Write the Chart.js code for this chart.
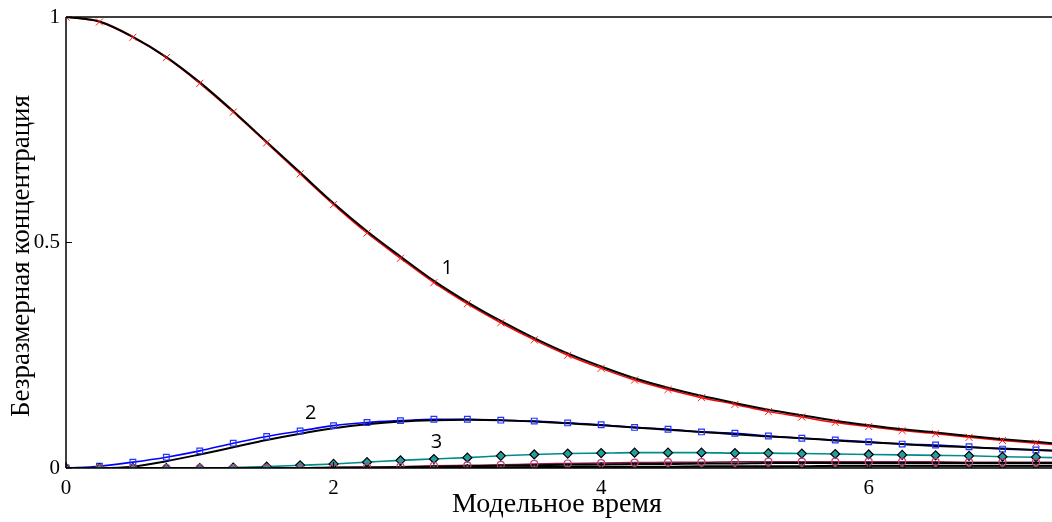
<!DOCTYPE html>
<html>
<head>
<meta charset="utf-8">
<script src="https://cdn.jsdelivr.net/npm/chart.js@4.4.1/dist/chart.umd.min.js"></script>
<style>
html,body{margin:0;padding:0;background:#fff;overflow:hidden;}
#wrap{width:1052px;height:522px;position:relative;}
</style>
</head>
<body>
<div id="wrap"><canvas id="c" width="1052" height="522"></canvas></div>
<script>
// Model time grid (marker positions)
const T = [0,0.25,0.5,0.75,1,1.25,1.5,1.75,2,2.25,2.5,2.75,3,3.25,3.5,3.75,4,4.25,4.5,4.75,5,5.25,5.5,5.75,6,6.25,6.5,6.75,7,7.25,7.5];

// Series 1 (red crosses) and its model curve (black)
const S1 = [1.000,0.989,0.955,0.910,0.853,0.789,0.721,0.652,0.584,0.521,0.465,0.411,0.364,0.322,0.284,0.250,0.221,0.195,0.174,0.156,0.141,0.125,0.113,0.101,0.092,0.083,0.076,0.068,0.061,0.055,0.049];
const B1 = [1.000,0.990,0.956,0.911,0.855,0.791,0.723,0.655,0.587,0.525,0.469,0.415,0.368,0.326,0.288,0.254,0.225,0.199,0.178,0.160,0.144,0.129,0.117,0.105,0.095,0.086,0.079,0.071,0.064,0.058,0.052];

// Series 2 (blue squares) and its model curve
const S2 = [0.000,0.004,0.013,0.024,0.038,0.055,0.070,0.082,0.094,0.101,0.105,0.108,0.108,0.106,0.104,0.100,0.096,0.090,0.086,0.080,0.077,0.071,0.066,0.062,0.058,0.053,0.051,0.047,0.042,0.040,0.036];
const B2 = [0.000,0.000,0.003,0.015,0.030,0.046,0.062,0.076,0.088,0.097,0.103,0.106,0.107,0.106,0.103,0.099,0.095,0.090,0.085,0.080,0.075,0.070,0.066,0.061,0.057,0.053,0.049,0.046,0.043,0.040,0.037];

// Series 3 (teal diamonds)
const S3 = [0.000,0.000,0.000,0.000,0.000,0.001,0.003,0.006,0.009,0.013,0.017,0.020,0.023,0.027,0.030,0.032,0.033,0.034,0.034,0.034,0.033,0.033,0.032,0.031,0.030,0.029,0.028,0.027,0.025,0.024,0.022];

// Series 4 (pink circles) and its model curve
const S4 = [0,0,0,0,0,0,0,0,0.001,0.002,0.003,0.005,0.006,0.007,0.009,0.010,0.011,0.012,0.013,0.013,0.014,0.014,0.014,0.014,0.014,0.014,0.014,0.013,0.013,0.013,0.013];
const B4 = [0,0,0,0,0,0,0,0,0.001,0.001,0.002,0.003,0.004,0.005,0.006,0.007,0.008,0.009,0.009,0.010,0.010,0.011,0.011,0.011,0.011,0.011,0.011,0.011,0.011,0.011,0.011];

// Series 5 (dark markers) and its model curve
const S5 = [0,0,0,0,0,0,0,0,0,0,0,0,0.001,0.001,0.001,0.001,0.002,0.002,0.002,0.002,0.002,0.002,0.003,0.003,0.003,0.003,0.003,0.003,0.003,0.003,0.003];
const B5 = [0,0,0,0,0,0,0,0,0,0,0,0,0.001,0.001,0.002,0.002,0.003,0.003,0.003,0.004,0.004,0.004,0.004,0.005,0.005,0.005,0.005,0.005,0.005,0.005,0.005];

// Axis ticks
const X_TICKS = [0,2,4,6];
const X_TICK_LABELS = ['0','2','4','6'];
const Y_TICKS = [0,0.5,1];
const Y_TICK_LABELS = ['0','0.5','1'];
const X_MAX = 7.37;

// Curve labels
const CURVE_LABELS = [
  {text:'1', x:2.85, y:0.443},
  {text:'2', x:1.83, y:0.122},
  {text:'3', x:2.77, y:0.058}
];

const X_TITLE = 'Модельное время';
const Y_TITLE = 'Безразмерная концентрация';

const pts = arr => T.map((t,i)=>({x:t, y:arr[i]}));

function lineDS(arr, color, width, order){
  return {data: pts(arr), borderColor: color, borderWidth: width, pointRadius: 0,
          cubicInterpolationMode:'monotone', fill:false, order: order};
}
function markDS(arr, style, radius, stroke, fill, bw, order){
  return {data: pts(arr), showLine:false, pointStyle: style, pointRadius: radius,
          pointBorderColor: stroke, pointBackgroundColor: fill, pointBorderWidth: bw,
          borderColor: stroke, backgroundColor: fill, order: order};
}

const datasets = [
  lineDS(S1, '#ff0000', 1.5, 5),
  lineDS(S2, '#0000ff', 1.6, 5),
  lineDS(S3, '#008b8b', 1.6, 5),
  lineDS(S4, '#8b1a4a', 1.5, 5),
  lineDS(S5, '#777777', 1.5, 5),
  lineDS(B1, '#000000', 2, 3),
  lineDS(B2, '#000000', 2, 3),
  lineDS(B4, '#000000', 2, 3),
  lineDS(B5, '#000000', 2, 3),
  markDS(S5, 'triangle', 3.5, '#222222', '#666666', 1, 2),
  markDS(S4, 'circle', 3.5, '#c0407a', 'rgba(255,255,255,0)', 1.2, 1),
  markDS(S3, 'rectRot', 4.5, '#000000', '#229e9e', 1.2, 1),
  markDS(S2, 'rect', 4, '#2233ff', 'rgba(255,255,255,0)', 1.2, 1),
  markDS(S1, 'crossRot', 5, '#ff2020', '#ff2020', 1, 1)
];

const L = 66, TOP = 17, BOTTOM = 468;

const decor = {
  id:'decor',
  afterDraw(chart){
    const ctx = chart.ctx, a = chart.chartArea;
    const xs = chart.scales.x, ys = chart.scales.y;
    ctx.save();
    ctx.strokeStyle = '#000';
    ctx.lineWidth = 1.5;
    ctx.beginPath();
    ctx.moveTo(a.left, a.top); ctx.lineTo(a.right, a.top);
    ctx.moveTo(a.left, a.top); ctx.lineTo(a.left, a.bottom);
    ctx.moveTo(a.left, a.bottom); ctx.lineTo(a.right, a.bottom);
    ctx.stroke();
    ctx.lineWidth = 1;
    ctx.beginPath();
    Y_TICKS.forEach(v=>{ const y = ys.getPixelForValue(v); ctx.moveTo(a.left, y); ctx.lineTo(a.left+6, y); });
    X_TICKS.forEach(v=>{ const x = xs.getPixelForValue(v); ctx.moveTo(x, a.bottom); ctx.lineTo(x, a.bottom-6); });
    ctx.stroke();
    ctx.fillStyle = '#000';
    ctx.font = '20px "Open Sans", "Liberation Sans", sans-serif';
    ctx.textAlign = 'center'; ctx.textBaseline = 'middle';
    CURVE_LABELS.forEach(l=>{ ctx.fillText(l.text, xs.getPixelForValue(l.x), ys.getPixelForValue(l.y)); });
    ctx.font = '28px "Liberation Serif", "DejaVu Serif", serif';
    ctx.textAlign = 'center'; ctx.textBaseline = 'middle';
    ctx.fillText(X_TITLE, 557, 505);
    ctx.font = '27px "Liberation Serif", "DejaVu Serif", serif';
    ctx.translate(22, 256);
    ctx.rotate(-Math.PI/2);
    ctx.fillText(Y_TITLE, 0, 0);
    ctx.restore();
  }
};

function fixX(s){ s.height = 522 - BOTTOM; s.paddingLeft = 0; s.paddingRight = 0; }
function fixY(s){ s.width = L; s.paddingTop = 0; s.paddingBottom = 0; }

new Chart(document.getElementById('c'), {
  type:'line',
  data:{datasets},
  options:{
    responsive:false, animation:false,
    layout:{autoPadding:false, padding:{top:TOP, right:0, bottom:0, left:0}},
    plugins:{legend:{display:false}, tooltip:{enabled:false}},
    scales:{
      x:{type:'linear', min:0, max:X_MAX, offset:false,
         grid:{display:false, drawTicks:false}, border:{display:false},
         afterBuildTicks: s=>{ s.ticks = X_TICKS.map(v=>({value:v})); },
         ticks:{callback:(v,i)=>X_TICK_LABELS[i], color:'#000', padding:8, maxRotation:0,
                font:{family:'"Liberation Serif", serif', size:21}},
         afterFit: fixX
      },
      y:{type:'linear', min:0, max:1,
         grid:{display:false, drawTicks:false}, border:{display:false},
         afterBuildTicks: s=>{ s.ticks = Y_TICKS.map(v=>({value:v})); },
         ticks:{callback:(v,i)=>Y_TICK_LABELS[i], color:'#000', padding:6,
                font:{family:'"Liberation Serif", serif', size:21}},
         afterFit: fixY
      }
    }
  },
  plugins:[decor]
});
</script>
</body>
</html>
